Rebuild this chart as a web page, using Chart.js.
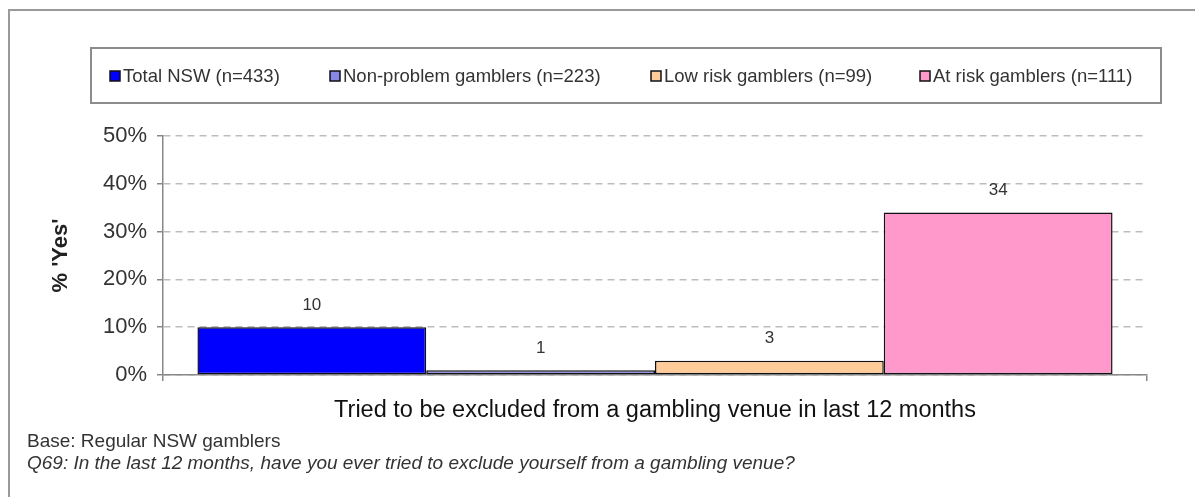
<!DOCTYPE html>
<html>
<head>
<meta charset="utf-8">
<script src="https://cdn.jsdelivr.net/npm/chart.js@4/dist/chart.umd.min.js"></script>
<style>
  html, body { margin: 0; padding: 0; background: #fff; overflow: hidden; }
  #wrap { width: 1195px; height: 497px; position: relative; }
</style>
</head>
<body>
<div id="wrap"><canvas id="c" width="1195" height="497"></canvas></div>
<script>
// Category, series and tick labels
const categories = ['Tried to be excluded from a gambling venue in last 12 months'];
const seriesNames = ['Total NSW (n=433)', 'Non-problem gamblers (n=223)', 'Low risk gamblers (n=99)', 'At risk gamblers (n=111)'];
const totalNSW = [10];
const nonProblem = [1];
const lowRisk = [3];
const atRisk = [34];
const yTicks = [0, 10, 20, 30, 40, 50];
const yTitle = "% 'Yes'";
const notes = ['Base: Regular NSW gamblers',
  'Q69: In the last 12 months, have you ever tried to exclude yourself from a gambling venue?'];

const seriesValues = [totalNSW, nonProblem, lowRisk, atRisk];
const seriesColors = ['#0000ff', '#8787e8', '#ffcc99', '#ff99cc'];
const FONT = "'Liberation Sans', Arial, sans-serif";

// Value labels above each bar
const valueLabels = {
  id: 'valueLabels',
  afterDatasetsDraw(chart) {
    const ctx = chart.ctx;
    ctx.save();
    ctx.font = '17px ' + FONT;
    ctx.fillStyle = '#333';
    ctx.textAlign = 'center';
    ctx.textBaseline = 'middle';
    chart.data.datasets.forEach((ds, i) => {
      chart.getDatasetMeta(i).data.forEach((bar, j) => {
        ctx.fillText(String(ds.data[j]), bar.x, bar.y - 22);
      });
    });
    ctx.restore();
  }
};

// Outer frame, boxed legend and footnotes
const decorations = {
  id: 'decorations',
  afterDraw(chart) {
    const ctx = chart.ctx;
    ctx.save();
    // outer frame (top and left edges)
    ctx.strokeStyle = '#9a9a9a';
    ctx.lineWidth = 2;
    ctx.beginPath();
    ctx.moveTo(9, 497);
    ctx.lineTo(9, 10);
    ctx.lineTo(1195, 10);
    ctx.stroke();

    // legend box
    ctx.strokeStyle = '#8c8c8c';
    ctx.lineWidth = 2;
    ctx.strokeRect(91, 48, 1070, 55);

    // legend entries
    const itemX = [110, 330, 651, 920];
    const cy = 76;
    ctx.font = '18.5px ' + FONT;
    ctx.textBaseline = 'middle';
    ctx.textAlign = 'left';
    chart.data.datasets.forEach((ds, i) => {
      const x = itemX[i];
      ctx.fillStyle = ds.backgroundColor;
      ctx.fillRect(x, cy - 5, 10, 10);
      ctx.strokeStyle = '#111';
      ctx.lineWidth = 1.5;
      ctx.strokeRect(x, cy - 5, 10, 10);
      ctx.fillStyle = '#333';
      ctx.fillText(ds.label, x + 13, cy + 1);
    });

    // footnotes
    ctx.fillStyle = '#333';
    ctx.font = '19px ' + FONT;
    ctx.fillText(notes[0], 27, 442);
    ctx.font = 'italic 19px ' + FONT;
    ctx.fillText(notes[1], 27, 464);
    ctx.restore();
  }
};

new Chart(document.getElementById('c'), {
  type: 'bar',
  data: {
    labels: categories,
    datasets: seriesNames.map((name, i) => ({
      label: name,
      data: seriesValues[i],
      backgroundColor: seriesColors[i],
      borderColor: '#111',
      borderWidth: 1.5,
      borderSkipped: false,
      categoryPercentage: 0.93,
      barPercentage: 1.0
    }))
  },
  options: {
    responsive: false,
    animation: false,
    devicePixelRatio: 1,
    layout: { padding: { top: 136, right: 48, bottom: 62, left: 45 } },
    plugins: {
      legend: { display: false },
      tooltip: { enabled: false }
    },
    scales: {
      x: {
        afterFit(s) { s.height = 60; },
        grid: { display: true, drawOnChartArea: false, drawTicks: true, tickLength: 6, color: '#888', lineWidth: 1.5 },
        border: { display: true, color: '#888', width: 1.5 },
        ticks: { color: '#111', font: { size: 23.5, family: FONT }, padding: 15 }
      },
      y: {
        min: 0,
        max: 50,
        afterFit(s) { s.width = 118; },
        afterBuildTicks(s) { s.ticks = yTicks.map(v => ({ value: v })); },
        grid: {
          color: '#bdbdbd', lineWidth: 1.5, tickLength: 6,
          tickColor: '#888', tickWidth: 1.5
        },
        border: { display: true, color: '#888', width: 1.5, dash: [7, 5] },
        ticks: {
          color: '#333', padding: 10,
          font: { size: 22, family: FONT },
          callback: v => v + '%'
        },
        title: {
          display: true, text: yTitle, color: '#222',
          font: { size: 22, weight: 'bold', family: FONT },
          padding: { top: 3, bottom: 0 }
        }
      }
    }
  },
  plugins: [valueLabels, decorations]
});
</script>
</body>
</html>
